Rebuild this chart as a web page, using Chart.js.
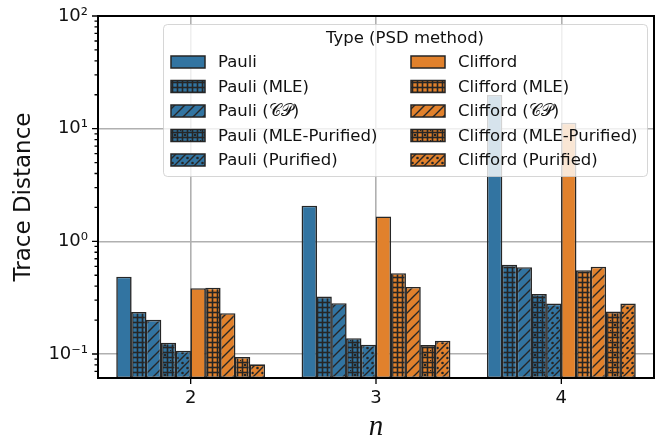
<!DOCTYPE html>
<html>
<head>
<meta charset="utf-8">
<script src="https://cdn.jsdelivr.net/npm/chart.js@4"></script>
<style>
  html, body { margin: 0; padding: 0; background: #fff; }
</style>
</head>
<body>
<canvas id="myChart" width="665" height="439"></canvas>
<script>
// qubit counts on the x axis
const nValues = ["2", "3", "4"];

// trace distance per PSD method
const pauli = [0.485, 2.07, 19.9];
const pauliMle = [0.236, 0.323, 0.618];
const pauliCp = [0.201, 0.282, 0.589];
const pauliMlePurified = [0.126, 0.138, 0.341];
const pauliPurified = [0.107, 0.121, 0.28];

const clifford = [0.384, 1.66, 11.3];
const cliffordMle = [0.388, 0.521, 0.554];
const cliffordCp = [0.23, 0.394, 0.596];
const cliffordMlePurified = [0.094, 0.12, 0.238];
const cliffordPurified = [0.081, 0.131, 0.28];

const majorTicks = [0.1, 1, 10, 100];
const majorTickLabels = ["10⁻¹", "10⁰", "10¹", "10²"];
const yMin = 0.0612;
const yMax = 100;

const blue = "#3274a1";
const orange = "#e1812c";
const edge = "#262626";
const textColor = "#111";

// hatch fills: "" plain, "+" grid, "/" diagonal, "+." grid with dots, "/." diagonal with dots
function hatch(color, kind) {
  if (kind === "") return color;
  const size = 10;
  const c = document.createElement("canvas");
  c.width = size;
  c.height = size;
  const g = c.getContext("2d");
  g.fillStyle = color;
  g.fillRect(0, 0, size, size);
  g.fillStyle = edge;
  g.strokeStyle = edge;
  if (kind.includes("+")) {
    g.fillRect(1.7, 0, 1.6, size);
    g.fillRect(6.7, 0, 1.6, size);
    g.fillRect(0, 1.7, size, 1.6);
    g.fillRect(0, 6.7, size, 1.6);
  }
  if (kind.includes("/")) {
    g.lineWidth = 1.4;
    g.beginPath();
    g.moveTo(-1, 11); g.lineTo(11, -1);
    g.moveTo(-1, 1); g.lineTo(1, -1);
    g.moveTo(9, 11); g.lineTo(11, 9);
    g.stroke();
  }
  if (kind.includes(".")) {
    const dots = kind.includes("+") ? [[5, 5], [0, 0]] : [[2.5, 3], [7.5, 8]];
    dots.forEach(([x, y]) => {
      g.beginPath();
      g.arc(x, y, 1.3, 0, Math.PI * 2);
      g.fill();
    });
  }
  return g.createPattern(c, "repeat");
}

function series(label, data, color, kind) {
  return {
    label: label,
    data: data,
    backgroundColor: hatch(color, kind),
    borderColor: edge,
    borderWidth: 1.6,
    borderSkipped: false,
    categoryPercentage: 0.8,
    barPercentage: 1.04,
  };
}

function isMajor(v) {
  const l = Math.log10(v);
  return Math.abs(l - Math.round(l)) < 1e-9;
}

// spines and outward tick marks, drawn above the bars
const frame = {
  id: "frame",
  afterDatasetsDraw(chart) {
    const { ctx, chartArea: a, scales } = chart;
    ctx.save();
    ctx.strokeStyle = "#000";
    ctx.lineWidth = 1.3;
    ctx.beginPath();
    scales.y.ticks.forEach((t) => {
      const py = scales.y.getPixelForValue(t.value);
      const len = isMajor(t.value) ? 6 : 3.5;
      ctx.moveTo(a.left - len, py);
      ctx.lineTo(a.left, py);
    });
    scales.x.ticks.forEach((t, i) => {
      const px = scales.x.getPixelForTick(i);
      ctx.moveTo(px, a.bottom);
      ctx.lineTo(px, a.bottom + 6);
    });
    ctx.stroke();
    ctx.lineWidth = 2;
    ctx.strokeRect(a.left, a.top, a.right - a.left, a.bottom - a.top);
    ctx.restore();
  },
};

// two-column legend with a title, laid over the plot
const hatchLegend = {
  id: "hatchLegend",
  afterDraw(chart) {
    const { ctx, chartArea: a } = chart;
    const w = 484, h = 152;
    const x0 = a.right - 491, y0 = a.top + 8;
    ctx.save();
    ctx.beginPath();
    ctx.roundRect(x0 + 0.5, y0 + 0.5, w, h, 4);
    ctx.fillStyle = "rgba(255,255,255,0.8)";
    ctx.fill();
    ctx.strokeStyle = "rgba(204,204,204,0.8)";
    ctx.lineWidth = 1;
    ctx.stroke();

    ctx.font = "16.5px 'DejaVu Sans'";
    ctx.fillStyle = textColor;
    ctx.textBaseline = "middle";
    ctx.textAlign = "center";
    ctx.fillText("Type (PSD method)", x0 + w / 2, y0 + 15);

    ctx.textAlign = "left";
    chart.data.datasets.forEach((ds, i) => {
      const col = Math.floor(i / 5), row = i % 5;
      const hx = x0 + 8 + col * 240;
      const hy = y0 + 38 + row * 24.5;
      ctx.fillStyle = ds.backgroundColor;
      ctx.fillRect(hx, hy - 6, 34, 12);
      ctx.strokeStyle = edge;
      ctx.lineWidth = 1.5;
      ctx.strokeRect(hx, hy - 6, 34, 12);
      ctx.fillStyle = textColor;
      ctx.fillText(ds.label, hx + 47, hy + 1);
    });
    ctx.restore();
  },
};

const ctx = document.getElementById("myChart").getContext("2d");
const myChart = new Chart(ctx, {
  type: "bar",
  data: {
    labels: nValues,
    datasets: [
      series("Pauli", pauli, blue, ""),
      series("Pauli (MLE)", pauliMle, blue, "+"),
      series("Pauli (𝒞𝒫)", pauliCp, blue, "/"),
      series("Pauli (MLE-Purified)", pauliMlePurified, blue, "+."),
      series("Pauli (Purified)", pauliPurified, blue, "/."),
      series("Clifford", clifford, orange, ""),
      series("Clifford (MLE)", cliffordMle, orange, "+"),
      series("Clifford (𝒞𝒫)", cliffordCp, orange, "/"),
      series("Clifford (MLE-Purified)", cliffordMlePurified, orange, "+."),
      series("Clifford (Purified)", cliffordPurified, orange, "/."),
    ],
  },
  options: {
    responsive: false,
    animation: false,
    layout: { padding: { top: 16, right: 11, left: 0, bottom: 0 } },
    plugins: {
      legend: { display: false },
      tooltip: { enabled: false },
    },
    scales: {
      x: {
        grid: { color: "#b0b0b0", lineWidth: 1.6, offset: false, drawTicks: false },
        border: { display: false },
        ticks: {
          color: textColor,
          padding: 10,
          font: { family: "DejaVu Sans", size: 18 },
        },
        title: {
          display: true,
          text: "n",
          color: textColor,
          padding: { top: 0, bottom: 0 },
          font: { family: "Liberation Serif", size: 29, style: "italic", lineHeight: 0.8 },
        },
        afterFit(scale) {
          scale.height = 61;
          scale.paddingLeft = 0;
          scale.paddingRight = 0;
        },
      },
      y: {
        type: "logarithmic",
        min: yMin,
        max: yMax,
        grid: {
          color: (c) => (c.tick && isMajor(c.tick.value) ? "#b0b0b0" : "rgba(0,0,0,0)"),
          lineWidth: 1.6,
          drawTicks: false,
        },
        border: { display: false },
        afterBuildTicks(scale) {
          const ticks = [];
          for (let e = -2; e <= 2; e++) {
            for (let m = 1; m <= 9; m++) {
              const v = m * Math.pow(10, e);
              if (v >= yMin && v <= yMax * 1.0001) ticks.push({ value: v });
            }
          }
          scale.ticks = ticks;
        },
        ticks: {
          autoSkip: false,
          color: textColor,
          padding: 10,
          font: { family: "DejaVu Sans", size: 18 },
          callback: (value) => {
            const i = majorTicks.findIndex((t) => Math.abs(t - value) < 1e-9 * t);
            return i >= 0 ? majorTickLabels[i] : "";
          },
        },
        title: {
          display: true,
          text: "Trace Distance",
          color: textColor,
          padding: { top: 10, bottom: 0 },
          font: { family: "DejaVu Sans", size: 23 },
        },
        afterFit(scale) {
          scale.width = 98;
          scale.paddingTop = 0;
          scale.paddingBottom = 0;
        },
      },
    },
  },
  plugins: [frame, hatchLegend],
});
</script>
</body>
</html>
